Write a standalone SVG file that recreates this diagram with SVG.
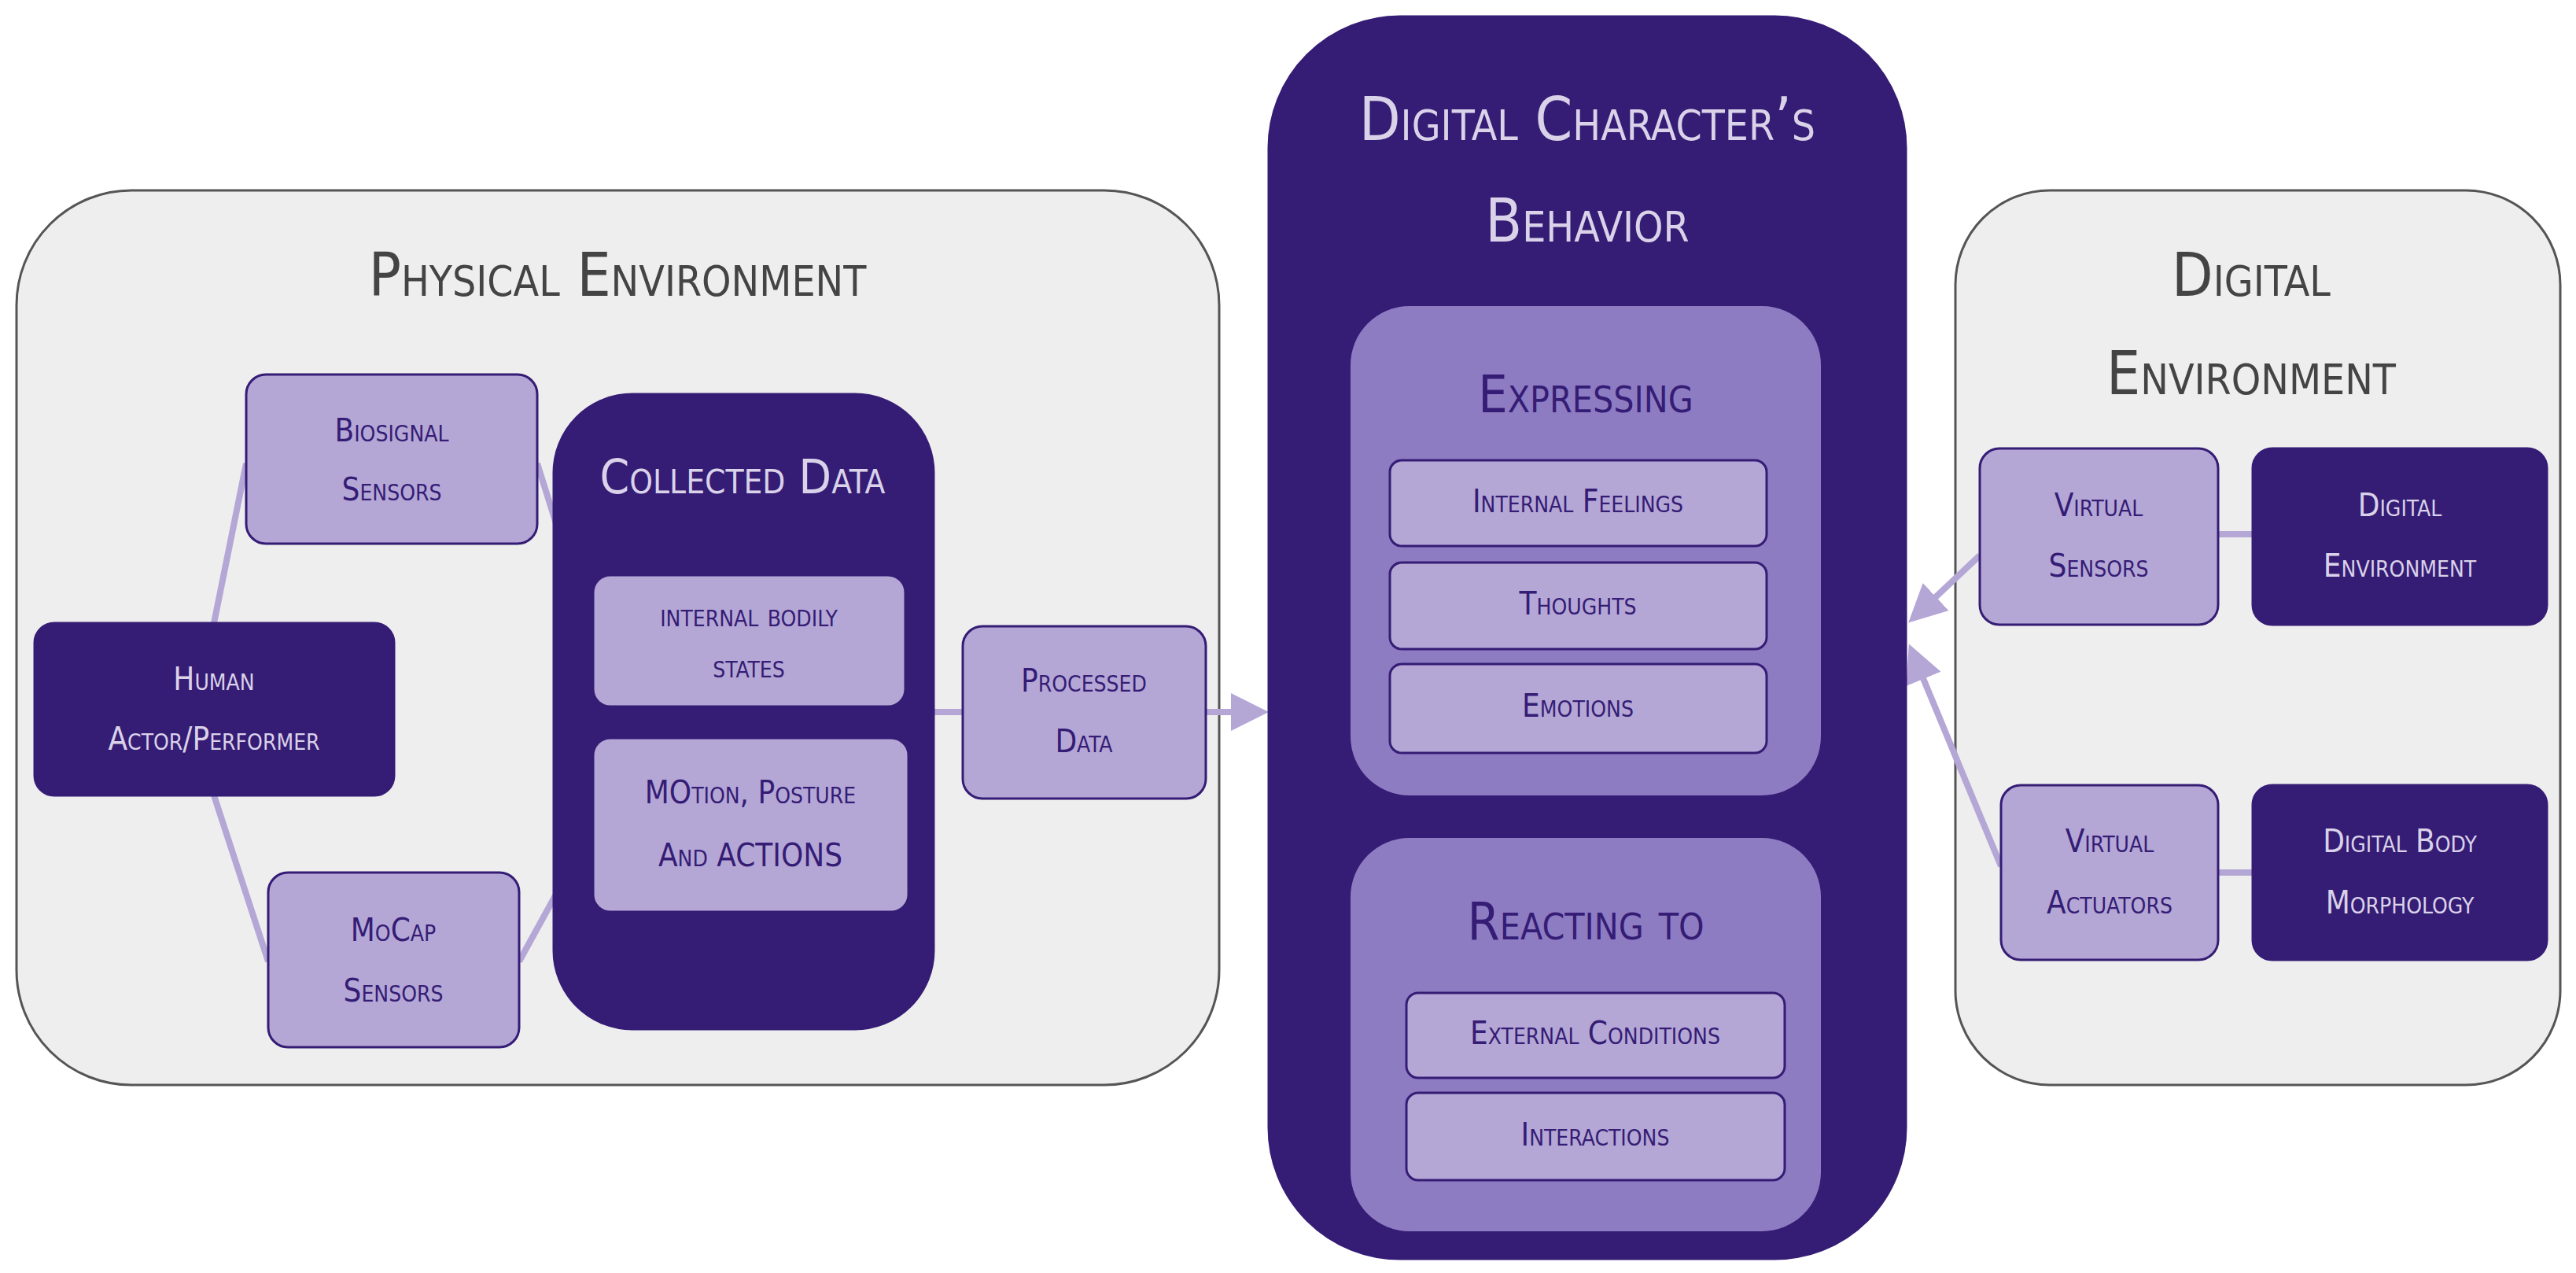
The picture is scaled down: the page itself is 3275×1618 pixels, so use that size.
<svg xmlns="http://www.w3.org/2000/svg" width="3275" height="1618" viewBox="0 0 3275 1618">
<style>
text{font-family:"DejaVu Sans Condensed","DejaVu Sans",sans-serif;font-variant:small-caps;text-anchor:middle;dominant-baseline:middle}
.env{fill:#eeeeee;stroke:#555;stroke-width:3}
.dark{fill:#351c75;stroke:#351c75;stroke-width:3}
.mid{fill:#8e7cc3}
.light{fill:#b4a7d6;stroke:#351c75;stroke-width:3}
.tl{fill:#351c75;font-size:40px}
.td{fill:#d9d2e9;font-size:40px}
.tt{fill:#444;font-size:76px}
.tw{fill:#d9d2e9;font-size:76px}
.tm{fill:#351c75;font-size:66px}
.c{stroke:#b4a7d6;stroke-width:8;fill:none}
</style>
<defs><marker id="a" markerWidth="6" markerHeight="6" refX="5" refY="3" orient="auto" markerUnits="strokeWidth"><path d="M0,0L6,3L0,6z" fill="#b4a7d6"/></marker></defs>
<g id="physical"><rect class="env" x="21" y="242" width="1529" height="1137" rx="146"/><text class="tt" x="785" y="355">Physical Environment</text></g>
<g id="digitalenv"><rect class="env" x="2486" y="242" width="769" height="1137" rx="120"/><text class="tt" x="2862" y="355">Digital</text><text class="tt" x="2862" y="480">Environment</text></g>
<g id="connectors">
<path class="c" d="M272,792L313,589M272,1011L341,1222M683,589L754,815M660,1222L754,1051M1151,905L1224,905M2820,679L2864,679M2820,1109L2864,1109"/>
<path class="c" d="M1533,905L1605,905" marker-end="url(#a)"/>
<path class="c" d="M2517,706L2432,786" marker-end="url(#a)"/>
<path class="c" d="M2544,1101L2430,826" marker-end="url(#a)"/>
</g>
<g id="biosignal"><rect class="light" x="313" y="476" width="370" height="215" rx="25"/><text class="tl" x="498" y="550">Biosignal</text><text class="tl" x="498" y="625">Sensors</text></g>
<g id="human"><rect class="dark" x="44" y="792" width="457" height="219" rx="25"/><text class="td" x="272" y="866">Human</text><text class="td" x="272" y="942">Actor/Performer</text></g>
<g id="mocap"><rect class="light" x="341" y="1109" width="319" height="222" rx="25"/><text class="tl" x="500" y="1185">MoCap</text><text class="tl" x="500" y="1262">Sensors</text></g>
<g id="collected"><rect class="dark" x="704" y="501" width="483" height="807" rx="100"/><text class="td" x="944" y="610" style="font-size:60px">Collected Data</text></g>
<g id="internal"><rect class="light" x="754" y="731" width="397" height="167" rx="22"/><text class="tl" x="952" y="785">internal bodily</text><text class="tl" x="952" y="850">states</text></g>
<g id="motion"><rect class="light" x="754" y="938" width="401" height="221" rx="22"/><text class="tl" x="954" y="1010">MOtion, Posture</text><text class="tl" x="954" y="1090">And ACTIONS</text></g>
<g id="processed"><rect class="light" x="1224" y="796" width="309" height="219" rx="25"/><text class="tl" x="1378" y="868">Processed</text><text class="tl" x="1378" y="945">Data</text></g>
<g id="behavior"><rect class="dark" x="1613" y="21" width="810" height="1579" rx="167"/><text class="tw" x="2018" y="157">Digital Character’s</text><text class="tw" x="2018" y="286">Behavior</text></g>
<g id="expressing"><rect class="mid" x="1717" y="389" width="598" height="622" rx="75"/><text class="tm" x="2016" y="506">Expressing</text></g>
<g id="feelings"><rect class="light" x="1767" y="585" width="479" height="109" rx="15"/><text class="tl" x="2006" y="640">Internal Feelings</text></g>
<g id="thoughts"><rect class="light" x="1767" y="715" width="479" height="110" rx="15"/><text class="tl" x="2006" y="770">Thoughts</text></g>
<g id="emotions"><rect class="light" x="1767" y="844" width="479" height="113" rx="15"/><text class="tl" x="2006" y="900">Emotions</text></g>
<g id="reacting"><rect class="mid" x="1717" y="1065" width="598" height="500" rx="75"/><text class="tm" x="2016" y="1176">Reacting to</text></g>
<g id="external"><rect class="light" x="1788" y="1262" width="481" height="108" rx="15"/><text class="tl" x="2028" y="1316">External Conditions</text></g>
<g id="interactions"><rect class="light" x="1788" y="1389" width="481" height="111" rx="15"/><text class="tl" x="2028" y="1445">Interactions</text></g>
<g id="vsensors"><rect class="light" x="2517" y="570" width="303" height="224" rx="25"/><text class="tl" x="2668" y="645">Virtual</text><text class="tl" x="2668" y="722">Sensors</text></g>
<g id="denv"><rect class="dark" x="2864" y="570" width="374" height="224" rx="25"/><text class="td" x="3051" y="645">Digital</text><text class="td" x="3051" y="722">Environment</text></g>
<g id="vactuators"><rect class="light" x="2544" y="998" width="276" height="222" rx="25"/><text class="tl" x="2682" y="1072">Virtual</text><text class="tl" x="2682" y="1150">Actuators</text></g>
<g id="dbody"><rect class="dark" x="2864" y="998" width="374" height="222" rx="25"/><text class="td" x="3051" y="1072">Digital Body</text><text class="td" x="3051" y="1150">Morphology</text></g>
</svg>
